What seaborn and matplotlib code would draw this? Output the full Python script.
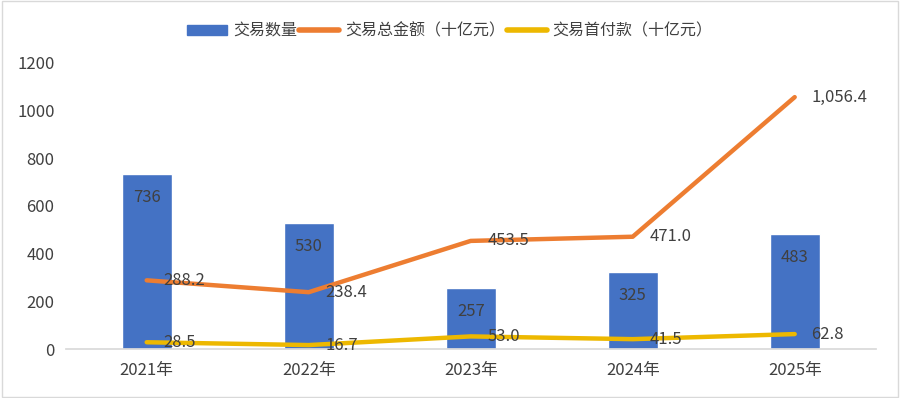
import matplotlib.pyplot as plt
import numpy as np
import seaborn as sns
from matplotlib.lines import Line2D
from matplotlib.patches import Patch, Rectangle

# 数据
years = ['2021年', '2022年', '2023年', '2024年', '2025年']
deal_count = [736, 530, 257, 325, 483]
deal_total = [288.2, 238.4, 453.5, 471.0, 1056.4]
deal_upfront = [28.5, 16.7, 53.0, 41.5, 62.8]

sns.set_theme(style="white")
plt.rcParams['font.family'] = ['Noto Sans CJK SC', 'DejaVu Sans']

blue, orange, yellow = '#4472C4', '#ED7D31', '#EDB800'
txt = '#404040'

fig = plt.figure(figsize=(9, 3.98), dpi=100)
ax = fig.add_axes([0.073, 0.123, 0.9, 0.719])

sns.barplot(x=years, y=deal_count, color=blue, width=0.31, saturation=1, ax=ax)
pos = np.arange(len(years))
sns.lineplot(x=pos, y=deal_total, color=orange, lw=3.2, ax=ax)
sns.lineplot(x=pos, y=deal_upfront, color=yellow, lw=3.2, ax=ax)

for i, v in enumerate(deal_count):
    ax.annotate(f'{v}', (i, v), xytext=(0, -17), textcoords='offset points',
                ha='center', va='center', fontsize=12, color=txt)
for vals in (deal_total, deal_upfront):
    for i, v in enumerate(vals):
        ax.annotate(f'{v:,.1f}', (i, v), xytext=(12, 0), textcoords='offset points',
                    ha='left', va='center', fontsize=12, color=txt)

ax.set_xlim(-0.5, len(years) - 0.5)
ax.set_ylim(0, 1200)
ax.set_yticks(range(0, 1201, 200))
ax.tick_params(axis='both', labelsize=12, colors=txt, length=0)
ax.tick_params(axis='y', pad=8)
ax.tick_params(axis='x', pad=9)
for s in ('top', 'right', 'left'):
    ax.spines[s].set_visible(False)
ax.spines['bottom'].set_color('#D9D9D9')
ax.set_xlabel('')
ax.set_ylabel('')

handles = [Patch(color=blue), Line2D([], [], color=orange, lw=4), Line2D([], [], color=yellow, lw=4)]
labels = ['交易数量', '交易总金额（十亿元）', '交易首付款（十亿元）']
fig.legend(handles, labels, loc='center', bbox_to_anchor=(0.5, 0.922), ncol=3,
           frameon=False, fontsize=11.5, labelcolor=txt, handlelength=2.5,
           handleheight=0.55, handletextpad=0.35, columnspacing=0.15)

fig.add_artist(Rectangle((0.002, 0.003), 0.996, 0.994, transform=fig.transFigure,
                         fill=False, edgecolor='#D9D9D9', lw=1))

fig.savefig('out.png', dpi=100)
